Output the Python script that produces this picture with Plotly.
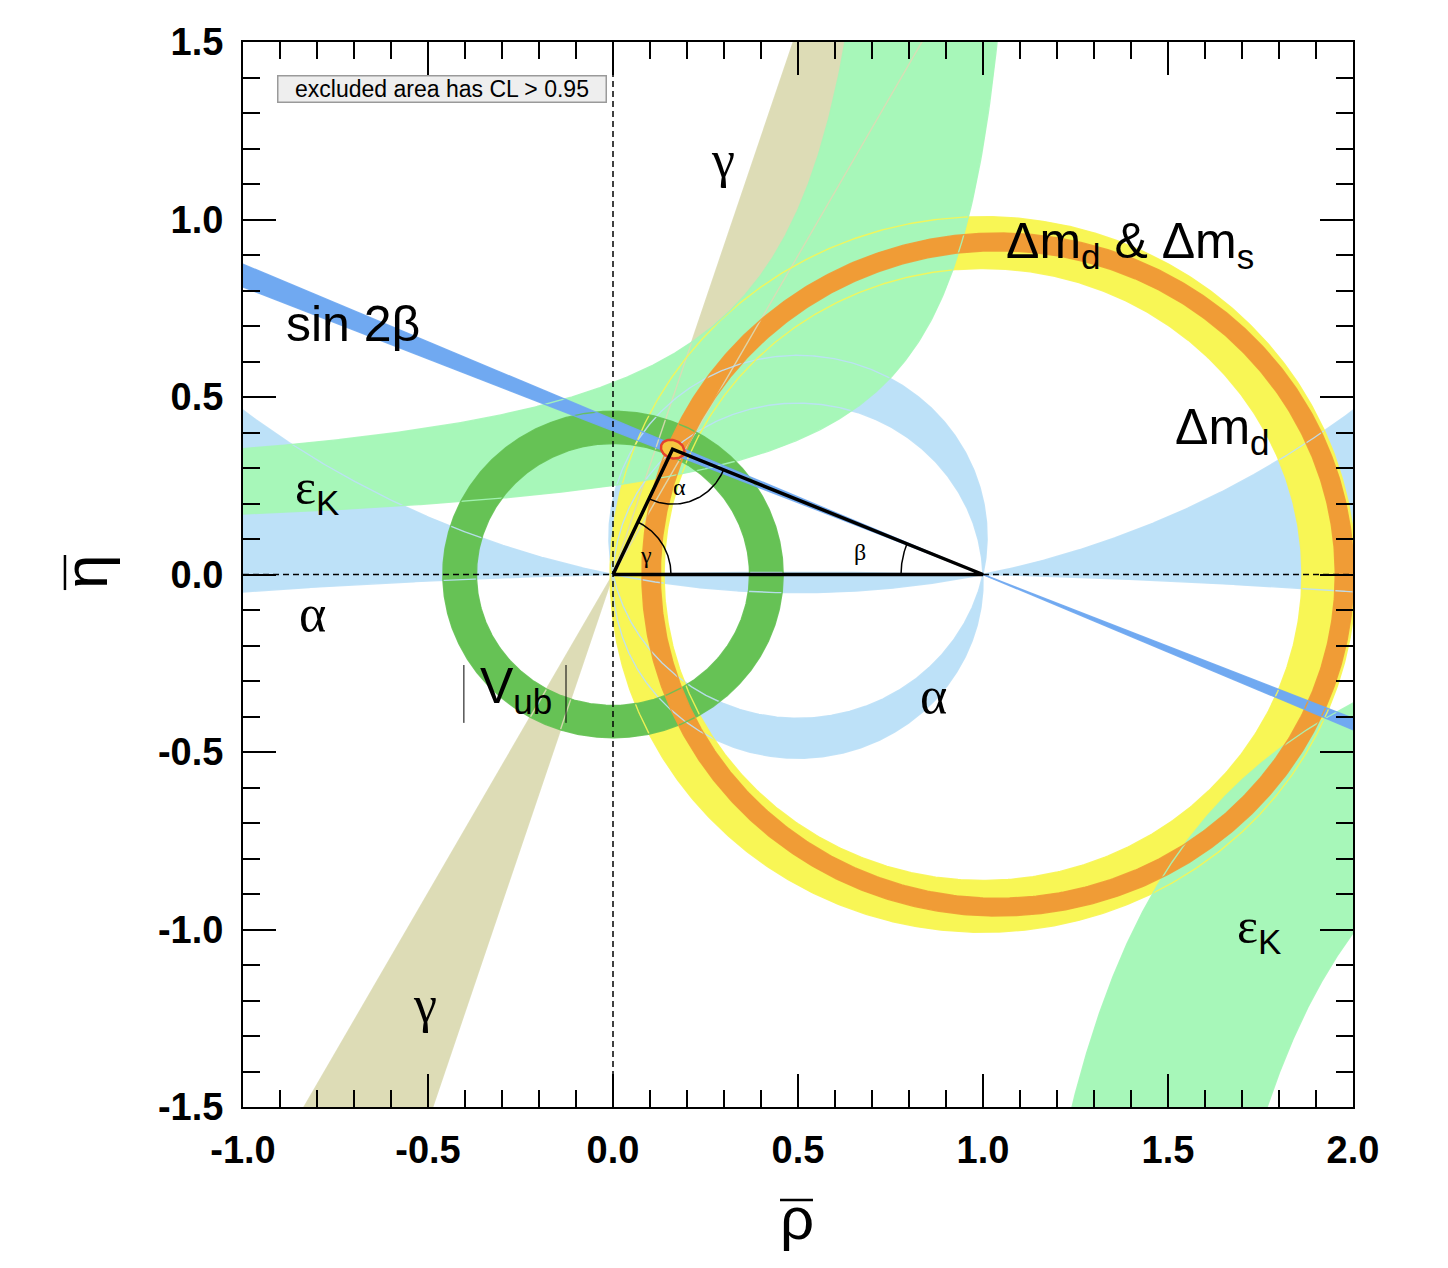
import numpy as np
import plotly.graph_objects as go

# ---- canvas / axes (page has an 8px body margin) -------------------------
W, H = 1432, 1252
ML, MR, MT, MB = 235, 87, 34, 153
X_RANGE = [-1.0, 2.0]
Y_RANGE = [-1.5, 1.5]
SX = (W - ML - MR) / (X_RANGE[1] - X_RANGE[0])   # px per unit rho
SY = (H - MT - MB) / (Y_RANGE[1] - Y_RANGE[0])   # px per unit eta

x_tickvals = [-1.0, -0.5, 0.0, 0.5, 1.0, 1.5, 2.0]
x_ticktext = ["-1.0", "-0.5", "0.0", "0.5", "1.0", "1.5", "2.0"]
y_tickvals = [-1.5, -1.0, -0.5, 0.0, 0.5, 1.0, 1.5]
y_ticktext = ["-1.5", "-1.0", "-0.5", "0.0", "0.5", "1.0", "1.5"]

# ---- constraint values (95% CL regions) ----------------------------------
gamma_deg = [60.9, 72.0]            # gamma wedge from (0,0)
sin2beta_tan = [0.405, 0.437]       # tan(beta) edges of sin2beta wedge from (1,0)
alpha_up_deg = [78.0, 92.0]         # alpha crescent, apex above axis
alpha_down_deg = [88.0, 102.0]      # alpha crescent, apex below axis
alpha_axis_deg = [1.4, 11.8]        # alpha solution hugging the rho axis
vub_center = [0.0, 0.0]
vub_radius = [0.369, 0.460]
dmd_center = [1.0, 0.0]
dmd_radius = [0.862, 1.008]
dms_center = [1.04, 0.0]
dms_radius = [0.912, 0.962]
# eps_K edges, eta = e + d / (a - rho)  ->  [e, d, a]
epsk_up_hi = [0.196, 0.293, 0.852]
epsk_up_lo = [0.075, 0.208, 1.184]
epsk_dn_hi = [0.276, 0.757, 0.814]
epsk_dn_lo = [0.0, 0.717, 1.290]
apex = [0.161, 0.353]
fit_axes_px = [12, 9, -20]          # global fit blob (semi-axes px, tilt deg)

colors = {
    "gamma": "#dddcb6",
    "alpha": "#bde1f8",
    "dmd": "#f8f655",
    "epsk": "#a7f7b9",
    "vub": "#66c255",
    "dms": "#f09c36",
    "s2b": "#70a9f1",
}


def ring(c, r):
    t = np.linspace(0, 2 * np.pi, 721)
    xo = c[0] + r[1] * np.cos(t)
    yo = c[1] + r[1] * np.sin(t)
    xi = c[0] + r[0] * np.cos(t[::-1])
    yi = c[1] + r[0] * np.sin(t[::-1])
    outline_x = list(xo) + [None] + list(xi)
    outline_y = list(yo) + [None] + list(yi)
    return np.concatenate([xo, xi]), np.concatenate([yo, yi]), outline_x, outline_y


def alpha_arc(alpha, upper=True, n=400):
    a = np.radians(alpha)
    cy = 0.5 / np.tan(a)
    r = 0.5 / np.sin(a)
    t1 = np.arctan2(-cy, 0.5)
    t2 = np.arctan2(-cy, -0.5)
    if t2 < t1:
        t2 += 2 * np.pi
    t = np.linspace(t1, t2, n)
    x = 0.5 + r * np.cos(t)
    y = cy + r * np.sin(t)
    return x, (y if upper else -y)


def crescent(rng, upper):
    x1, y1 = alpha_arc(rng[0], upper)
    x2, y2 = alpha_arc(rng[1], upper)
    px = np.concatenate([x1, x2[::-1]])
    py = np.concatenate([y1, y2[::-1]])
    return px, py, list(x1) + [None] + list(x2), list(y1) + [None] + list(y2)


def axis_band(rng):
    x = np.linspace(-1.05, 2.05, 800)
    a_hi = np.radians(rng[1])
    cy = 0.5 / np.tan(a_hi)
    r = 0.5 / np.sin(a_hi)
    y_hi = cy - np.sqrt(r**2 - (x - 0.5) ** 2)
    a_lo = np.radians(rng[0])
    cy = -0.5 / np.tan(a_lo)
    r = 0.5 / np.sin(a_lo)
    y_lo = cy + np.sqrt(r**2 - (x - 0.5) ** 2)
    px = np.concatenate([x, x[::-1]])
    py = np.concatenate([y_hi, y_lo[::-1]])
    return px, py, list(x) + [None] + list(x), list(y_hi) + [None] + list(y_lo)


def hyp(p, x):
    return p[0] + p[1] / (p[2] - x)


def epsk_upper(hi, lo, top=1.6):
    xh = np.linspace(-1.05, hi[2] - hi[1] / (top - hi[0]), 500)
    xl = np.linspace(-1.05, lo[2] - lo[1] / (top - lo[0]), 500)
    yh, yl = hyp(hi, xh), hyp(lo, xl)
    px = np.concatenate([xh, xl[::-1]])
    py = np.concatenate([yh, yl[::-1]])
    return px, py, list(xh) + [None] + list(xl), list(yh) + [None] + list(yl)


def epsk_lower(hi, lo, bottom=-1.6):
    xh = np.linspace(hi[2] + hi[1] / (-bottom + hi[0]), 2.05, 500)
    xl = np.linspace(lo[2] + lo[1] / (-bottom + lo[0]), 2.05, 500)
    yh, yl = hyp(hi, xh), hyp(lo, xl)
    px = np.concatenate([xh, xl[::-1]])
    py = np.concatenate([yh, yl[::-1]])
    return px, py, list(xh) + [None] + list(xl), list(yh) + [None] + list(yl)


def wedge_gamma(rng, r=4.0):
    c = [np.cos(np.radians(g)) * r for g in rng]
    s = [np.sin(np.radians(g)) * r for g in rng]
    px = [0, c[0], c[1], 0, -c[0], -c[1], 0]
    py = [0, s[0], s[1], 0, -s[0], -s[1], 0]
    ox = [-c[0], c[0], None, -c[1], c[1]]
    oy = [-s[0], s[0], None, -s[1], s[1]]
    return px, py, ox, oy


def wedge_s2b(slopes, L=2.3):
    px = [1, 1 - L, 1 - L, 1, 1 + L, 1 + L, 1]
    py = [0, slopes[0] * L, slopes[1] * L, 0, -slopes[1] * L, -slopes[0] * L, 0]
    ox = [1 - L, 1 + L, None, 1 - L, 1 + L]
    oy = [slopes[0] * L, -slopes[0] * L, None, slopes[1] * L, -slopes[1] * L]
    return px, py, ox, oy


def angle_arc(v, p1, p2, r_px, n=60):
    a1 = np.arctan2((p1[1] - v[1]) * SY, (p1[0] - v[0]) * SX)
    a2 = np.arctan2((p2[1] - v[1]) * SY, (p2[0] - v[0]) * SX)
    if a2 - a1 > np.pi:
        a2 -= 2 * np.pi
    if a1 - a2 > np.pi:
        a2 += 2 * np.pi
    t = np.linspace(a1, a2, n)
    return v[0] + r_px * np.cos(t) / SX, v[1] + r_px * np.sin(t) / SY


fig = go.Figure()
outlines = []


def add_region(px, py, ox, oy, color):
    fig.add_trace(go.Scatter(x=list(px), y=list(py), mode="lines", fill="toself",
                             fillcolor=color, line=dict(width=0, color=color),
                             hoverinfo="skip", showlegend=False))
    outlines.append((ox, oy, color))


add_region(*wedge_gamma(gamma_deg), colors["gamma"])
add_region(*crescent(alpha_up_deg, True), colors["alpha"])
add_region(*crescent(alpha_down_deg, False), colors["alpha"])
add_region(*axis_band(alpha_axis_deg), colors["alpha"])
add_region(*ring(dmd_center, dmd_radius), colors["dmd"])
add_region(*epsk_upper(epsk_up_hi, epsk_up_lo), colors["epsk"])
add_region(*epsk_lower(epsk_dn_hi, epsk_dn_lo), colors["epsk"])
add_region(*ring(vub_center, vub_radius), colors["vub"])
add_region(*ring(dms_center, dms_radius), colors["dms"])
add_region(*wedge_s2b(sin2beta_tan), colors["s2b"])

for ox, oy, col in outlines:
    fig.add_trace(go.Scatter(x=ox, y=oy, mode="lines", line=dict(width=1.4, color=col),
                             opacity=0.9, hoverinfo="skip", showlegend=False))

# dashed reference axes
fig.add_trace(go.Scatter(x=X_RANGE, y=[0, 0], mode="lines",
                         line=dict(color="black", width=1.5, dash="6px,4px"),
                         hoverinfo="skip", showlegend=False))
fig.add_trace(go.Scatter(x=[0, 0], y=Y_RANGE, mode="lines",
                         line=dict(color="black", width=1.5, dash="6px,4px"),
                         hoverinfo="skip", showlegend=False))

# global fit blob at the apex
t = np.linspace(0, 2 * np.pi, 80)
tilt = np.radians(fit_axes_px[2])
ex = fit_axes_px[0] * np.cos(t) * np.cos(tilt) - fit_axes_px[1] * np.sin(t) * np.sin(tilt)
ey = fit_axes_px[0] * np.cos(t) * np.sin(tilt) + fit_axes_px[1] * np.sin(t) * np.cos(tilt)
fig.add_trace(go.Scatter(x=apex[0] + ex / SX, y=apex[1] + ey / SY, mode="lines",
                         fill="toself", fillcolor="#f6c640",
                         line=dict(color="#e3412b", width=2.5),
                         hoverinfo="skip", showlegend=False))

# unitarity triangle
fig.add_trace(go.Scatter(x=[0, 1, apex[0], 0], y=[0, 0, apex[1], 0], mode="lines",
                         line=dict(color="black", width=3.5),
                         hoverinfo="skip", showlegend=False))
for v, p1, p2, r in [([0, 0], [1, 0], apex, 58),
                     (apex, [0, 0], [1, 0], 55),
                     ([1, 0], [0, 0], apex, 82)]:
    ax_, ay_ = angle_arc(v, p1, p2, r)
    fig.add_trace(go.Scatter(x=ax_, y=ay_, mode="lines",
                             line=dict(color="black", width=1.5),
                             hoverinfo="skip", showlegend=False))

# ---- labels ---------------------------------------------------------------
SANS = "Liberation Sans, Arial, sans-serif"
SERIF = "Liberation Serif, Times New Roman, serif"

EPSK = '&#949;<sub><span style="font-family:Liberation Sans">K</span></sub>'
labels = [
    ("γ", 0.297, 1.17, 52, SERIF),
    ("Δm<sub>d</sub> &amp; Δm<sub>s</sub>", 1.397, 0.93, 50, SANS),
    ("sin 2β", -0.703, 0.705, 50, SANS),
    ("Δm<sub>d</sub>", 1.646, 0.405, 50, SANS),
    (EPSK, -0.80, 0.238, 50, SERIF),
    ("α", -0.811, -0.11, 52, SERIF),
    ("V<sub>ub</sub>", -0.262, -0.325, 50, SANS),
    ("α", 0.865, -0.34, 52, SERIF),
    (EPSK, 1.745, -1.0, 50, SERIF),
    ("γ", -0.508, -1.21, 52, SERIF),
    ("α", 0.181, 0.246, 24, SERIF),
    ("γ", 0.088, 0.054, 24, SERIF),
    ("β", 0.668, 0.062, 24, SERIF),
]
annotations = []
for txt, x, y, size, fam in labels:
    annotations.append(dict(text=txt, x=x, y=y, xref="x", yref="y", showarrow=False,
                            xanchor="center", yanchor="middle",
                            font=dict(family=fam, size=size, color="black")))

# |V_ub| bars
shapes = []
for bx in [-0.403, -0.127]:
    shapes.append(dict(type="line", xref="x", yref="y", x0=bx, x1=bx, y0=-0.255, y1=-0.418,
                       line=dict(color="black", width=1)))

# legend box
annotations.append(dict(text="excluded area has CL &gt; 0.95", xref="paper", yref="paper",
                        x=0.1797, y=0.9559, xanchor="center", yanchor="middle",
                        showarrow=False, width=325, height=23,
                        bgcolor="#eeeeee", bordercolor="#9a9a9a", borderwidth=1.5, borderpad=1,
                        font=dict(family=SANS, size=23, color="black")))

# axis titles with bars
annotations.append(dict(text="ρ", xref="paper", yref="paper", x=0.499, y=-0.105,
                        xanchor="center", yanchor="middle", showarrow=False,
                        font=dict(family=SANS, size=60, color="black")))
annotations.append(dict(text="η", xref="paper", yref="paper", x=-0.1423, y=0.5023,
                        xanchor="center", yanchor="middle", textangle=-90, showarrow=False,
                        font=dict(family=SANS, size=62, color="black")))
shapes.append(dict(type="line", xref="paper", yref="paper", x0=0.4838, x1=0.5135,
                   y0=-0.0873, y1=-0.0873, line=dict(color="black", width=2.5)))
shapes.append(dict(type="line", xref="paper", yref="paper", x0=-0.1604, x1=-0.1604,
                   y0=0.4854, y1=0.5183, line=dict(color="black", width=2.5)))

axis_common = dict(
    showgrid=False, zeroline=False, showline=True, linecolor="black", linewidth=2,
    mirror="allticks", ticks="inside", ticklen=33, tickwidth=1.5, tickcolor="black",
    tickfont=dict(family=SANS, size=38, color="black", weight="bold"),
)

fig.update_layout(
    width=W, height=H,
    margin=dict(l=ML, r=MR, t=MT, b=MB),
    paper_bgcolor="white", plot_bgcolor="white",
    xaxis=dict(range=X_RANGE, tickmode="array", tickvals=x_tickvals, ticktext=x_ticktext,
               ticklabelstandoff=8,
               minor=dict(ticks="inside", ticklen=17, tickwidth=1.5, tickcolor="black",
                          tickmode="linear", tick0=0, dtick=0.1),
               **axis_common),
    yaxis=dict(range=Y_RANGE, tickmode="array", tickvals=y_tickvals, ticktext=y_ticktext,
               ticklabelstandoff=10,
               minor=dict(ticks="inside", ticklen=17, tickwidth=1.5, tickcolor="black",
                          tickmode="linear", tick0=0, dtick=0.1),
               **axis_common),
    annotations=annotations,
    shapes=shapes,
)

fig.write_html("out.html")
